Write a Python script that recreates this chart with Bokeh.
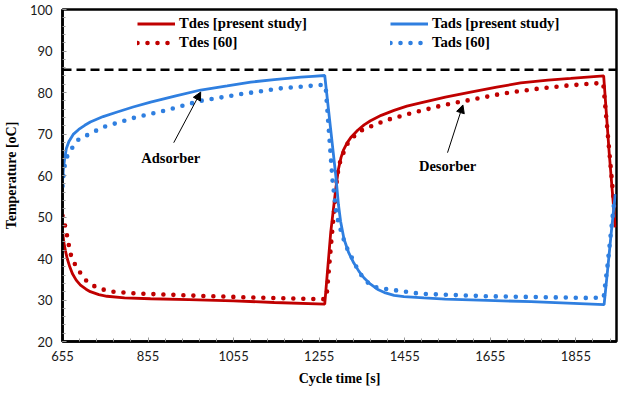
from bokeh.plotting import figure
from bokeh.models import (Range1d, FixedTicker, Legend, LegendItem, Span, Label,
                          Arrow, NormalHead)
from bokeh.embed import file_html
from bokeh.resources import INLINE

# ---------------- data ----------------
x_ticks = [655, 855, 1055, 1255, 1455, 1655, 1855]
y_ticks = [20, 30, 40, 50, 60, 70, 80, 90, 100]

tads_x = [655, 657, 660, 664, 670, 680, 693, 707, 720, 750, 783, 820, 861, 920, 978,
          1040, 1095, 1150, 1212, 1240, 1268, 1282, 1294, 1300, 1305, 1313, 1324, 1336,
          1348, 1360, 1375, 1391, 1410, 1430, 1453, 1500, 1550, 1648, 1750, 1850, 1921,
          1929, 1937, 1947]
tads_y = [58.5, 61.5, 64.0, 66.5, 68.2, 69.9, 71.1, 72.1, 72.9, 74.2, 75.3, 76.5, 77.7,
          79.2, 80.6, 81.6, 82.5, 83.1, 83.7, 83.9, 84.1, 71.0, 59.8, 53.0, 49.0, 44.7,
          41.4, 38.9, 36.9, 35.3, 33.8, 32.6, 31.7, 31.1, 30.8, 30.5, 30.2, 29.9, 29.6,
          29.2, 28.9, 37.0, 45.5, 55.5]

tdes_x = [655, 658, 662, 666, 672, 678, 687, 697, 710, 720, 740, 759, 800, 861, 950,
          1055, 1150, 1268, 1282, 1294, 1300, 1306, 1312, 1320, 1330, 1345, 1360, 1375,
          1400, 1430, 1460, 1492, 1550, 1609, 1670, 1726, 1790, 1843, 1920, 1933, 1947]
tdes_y = [46.5, 44.0, 41.8, 40.0, 38.0, 36.4, 34.8, 33.6, 32.6, 32.0, 31.3, 30.9, 30.5,
          30.3, 30.1, 29.8, 29.4, 29.0, 46.3, 57.0, 61.5, 64.3, 66.2, 67.8, 69.3, 70.9,
          72.2, 73.2, 74.5, 75.7, 76.7, 77.5, 78.9, 80.1, 81.3, 82.3, 83.0, 83.4, 84.0,
          65.4, 47.5]

tdes60_x = [655, 662, 670, 675, 685, 697, 711, 730, 751, 774, 822, 900, 978, 1100, 1212,
            1268, 1272, 1285, 1294, 1297, 1303, 1313, 1322, 1336, 1352, 1375, 1414, 1477,
            1547, 1617, 1687, 1757, 1827, 1898, 1919, 1946]
tdes60_y = [50.3, 47.5, 43.1, 40.7, 38.4, 36.5, 34.6, 33.3, 32.5, 32.0, 31.6, 31.3, 31.0,
            30.6, 30.3, 30.2, 30.5, 46.0, 56.2, 59.8, 63.0, 65.8, 67.8, 69.4, 70.8, 71.8,
            73.4, 75.2, 77.0, 78.4, 79.8, 80.8, 81.6, 82.2, 82.2, 51.0]

tads60_x = [655, 658, 662, 666, 672, 678, 692, 714, 751, 822, 900, 978, 1071, 1165, 1258,
            1270, 1286, 1295, 1301, 1307, 1317, 1329, 1348, 1365, 1379, 1400, 1422, 1492,
            1648, 1882, 1920, 1929, 1937, 1946]
tads60_y = [57.5, 61.0, 63.5, 64.6, 65.8, 66.7, 68.6, 69.8, 71.7, 73.9, 75.8, 78.0, 79.6,
            81.0, 81.8, 81.6, 59.0, 51.0, 48.3, 46.3, 43.1, 40.7, 36.7, 34.5, 33.3, 32.8,
            32.5, 31.5, 30.9, 30.5, 30.6, 38.3, 46.3, 55.0]

max_temp = 85.5
labels = ["Tdes [present study]", "Tdes [60]", "Tads [present study]", "Tads [60]"]

RED = "#C00000"
BLUE = "#2F7FE0"
SERIF = "Liberation Serif"

p = figure(width=624, height=388, output_backend="svg", toolbar_location=None,
           x_range=Range1d(655, 1950), y_range=Range1d(20, 100),
           min_border_left=62, min_border_right=8, min_border_top=9,
           min_border_bottom=47)
p.grid.visible = False
p.background_fill_color = "white"
p.border_fill_color = "white"
p.outline_line_color = "black"
p.outline_line_width = 2.5

p.xaxis.ticker = FixedTicker(ticks=x_ticks, minor_ticks=list(range(655, 1951, 40)))
p.yaxis.ticker = FixedTicker(ticks=y_ticks, minor_ticks=list(range(20, 101, 2)))

for ax in (p.xaxis[0], p.yaxis[0]):
    ax.axis_line_color = "black"
    ax.axis_line_width = 2.5
    ax.major_tick_in = 4
    ax.major_tick_out = 0
    ax.minor_tick_in = 3
    ax.minor_tick_out = 0
    ax.major_tick_line_color = "#999999"
    ax.minor_tick_line_color = "#999999"
    ax.major_label_text_font = "Lato"
    ax.major_label_text_font_size = "13px"
    ax.major_label_text_color = "#1a1a1a"
    ax.axis_label_text_font = SERIF
    ax.axis_label_text_font_style = "bold"
    ax.axis_label_text_font_size = "14px"
    ax.axis_label_text_color = "black"

p.xaxis.axis_label = "Cycle time [s]"
p.yaxis.axis_label = "Temperature [oC]"
p.xaxis.major_label_standoff = 9
p.xaxis.axis_label_standoff = 7
p.yaxis.major_label_standoff = 10
p.yaxis.axis_label_standoff = 8

p.add_layout(Span(location=max_temp, dimension="width", line_color="black",
                  line_width=2.5, line_dash="9 5"))

r_tdes = p.line(tdes_x, tdes_y, line_color=RED, line_width=2.8)
r_tdes60 = p.line(tdes60_x, tdes60_y, line_color=RED, line_width=4.6,
                  line_dash="0 10", line_cap="round")
r_tads = p.line(tads_x, tads_y, line_color=BLUE, line_width=2.8)
r_tads60 = p.line(tads60_x, tads60_y, line_color=BLUE, line_width=4.6,
                  line_dash="0 10", line_cap="round")


def make_legend(items, loc):
    lg = Legend(items=items, location=loc, orientation="vertical",
                label_text_font=SERIF, label_text_font_style="bold",
                label_text_font_size="14.7px", label_text_color="black",
                glyph_width=38, glyph_height=19, label_height=19,
                spacing=0, padding=0, margin=0, label_standoff=4,
                border_line_color=None, background_fill_alpha=0)
    p.add_layout(lg, "center")


make_legend([LegendItem(label=labels[0], renderers=[r_tdes]),
             LegendItem(label=labels[1], renderers=[r_tdes60])], (75, 289))
make_legend([LegendItem(label=labels[2], renderers=[r_tads]),
             LegendItem(label=labels[3], renderers=[r_tads60])], (328, 289))

for txt, tx, ty in (("Adsorber", 908, 64.1), ("Desorber", 1555, 62.2)):
    p.add_layout(Label(x=tx, y=ty, text=txt, text_align="center",
                       text_baseline="middle", text_font=SERIF,
                       text_font_style="bold", text_font_size="14.5px",
                       text_color="black"))

for xs, ys, xe, ye in ((915, 67.9, 978, 80.1), (1555, 65.5, 1591, 77.0)):
    p.add_layout(Arrow(end=NormalHead(size=8, fill_color="black", line_color="black"),
                       x_start=xs, y_start=ys, x_end=xe, y_end=ye,
                       line_color="black", line_width=1))

open("out.html", "w").write(file_html(p, INLINE))
